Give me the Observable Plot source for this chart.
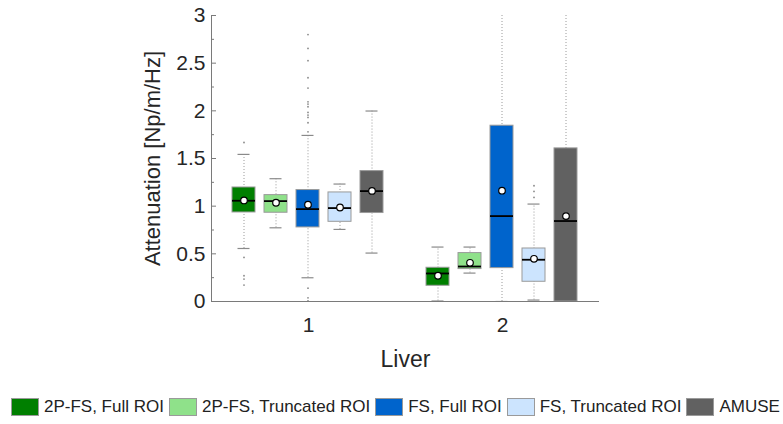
<!DOCTYPE html>
<html>
<head>
<meta charset="utf-8">
<script src="https://cdn.jsdelivr.net/npm/d3@7"></script>
<script src="https://cdn.jsdelivr.net/npm/@observablehq/plot@0.6"></script>
<style>
  html, body { margin: 0; padding: 0; background: #fff; }
  body { width: 783px; height: 424px; overflow: hidden; font-family: "Liberation Sans", Arial, sans-serif; }
  #legend { display: flex; align-items: center; margin-left: 11px; margin-top: 17px; font-size: 17px; color: #222; white-space: nowrap; }
  #legend .item { display: flex; align-items: center; margin-right: 5px; }
  #legend .sw { width: 26px; height: 16px; border: 1px solid #9a9a9a; margin-right: 5px; }
</style>
</head>
<body>
<div id="chart"></div>
<div id="legend"></div>
<script>
// ---- data ----
const livers = [1, 2];
const series = ["2P-FS, Full ROI", "2P-FS, Truncated ROI", "FS, Full ROI", "FS, Truncated ROI", "AMUSE"];
const colors = ["#007f00", "#8fe18a", "#0064cc", "#cce4fe", "#616161"];

// per liver (row) and series (column)
const q1 =        [[0.934, 0.931, 0.777, 0.836, 0.928], [0.165, 0.340, 0.350, 0.207, 0.000]];
const q3 =        [[1.196, 1.116, 1.169, 1.144, 1.368], [0.354, 0.508, 1.844, 0.556, 1.606]];
const medians =   [[1.057, 1.053, 0.969, 0.980, 1.158], [0.294, 0.367, 0.896, 0.438, 0.844]];
const means =     [[1.060, 1.036, 1.015, 0.986, 1.160], [0.270, 0.406, 1.162, 0.448, 0.896]];
const whiskerLo = [[0.556, 0.773, 0.249, 0.756, 0.508], [0.005, 0.298, 0.000, 0.015, 0.000]];
const whiskerHi = [[1.543, 1.288, 1.742, 1.232, 1.998], [0.571, 0.571, 3.600, 1.022, 3.600]];
const outliers = [
  [[1.668, 0.462, 0.270, 0.235, 0.172],
   [],
   [2.800, 2.655, 2.526, 2.347, 2.239, 2.095, 2.071, 2.043, 1.983, 1.956, 1.931, 1.875, 1.780, 0.140, 0.039, 0.007],
   [],
   []],
  [[], [], [], [1.214, 1.155, 1.092], []]
];
const yTicks = [0, 0.5, 1, 1.5, 2, 2.5, 3];
const yMinorTicks = [0.25, 0.75, 1.25, 1.75, 2.25, 2.75];

// ---- tables built from the arrays ----
const stats = [];
const points = [];
livers.forEach((liver, i) => {
  series.forEach((s, j) => {
    stats.push({liver, series: s, q1: q1[i][j], q3: q3[i][j], median: medians[i][j], mean: means[i][j],
                lo: whiskerLo[i][j], hi: whiskerHi[i][j]});
    outliers[i][j].forEach(v => points.push({liver, series: s, value: v}));
  });
});

const axisColor = "#7a7a7a";
const textColor = "#262626";

const chart = Plot.plot({
  width: 783,
  height: 380,
  marginLeft: 210,
  marginRight: 184,
  marginTop: 15,
  marginBottom: 79,
  style: {fontFamily: "'Liberation Sans', Arial, sans-serif", color: textColor, background: "#fff"},
  fx: {domain: livers, padding: 0},
  x: {domain: series, paddingInner: 0.27, paddingOuter: 0.6, axis: null},
  y: {domain: [0, 3]},
  color: {domain: series, range: colors},
  marks: [
    // whiskers (dotted)
    Plot.ruleX(stats, {fx: "liver", x: "series", y1: "lo", y2: "hi", stroke: "#9a9a9a", strokeWidth: 1, strokeDasharray: "1,2", clip: true}),
    // whisker caps
    Plot.tickY(stats, {fx: "liver", x: "series", y: "lo", stroke: "#8a8a8a", strokeWidth: 1.2, insetLeft: 5.5, insetRight: 5.5, clip: true}),
    Plot.tickY(stats, {fx: "liver", x: "series", y: "hi", stroke: "#8a8a8a", strokeWidth: 1.2, insetLeft: 5.5, insetRight: 5.5, clip: true}),
    // outliers
    Plot.dot(points, {fx: "liver", x: "series", y: "value", r: 0.9, fill: "#8a8a8a", stroke: null}),
    // boxes
    Plot.barY(stats, {fx: "liver", x: "series", y1: "q1", y2: "q3", fill: "series", stroke: "#9a9a9a", strokeWidth: 1}),
    // medians
    Plot.tickY(stats, {fx: "liver", x: "series", y: "median", stroke: "#000", strokeWidth: 1.8}),
    // means
    Plot.dot(stats, {fx: "liver", x: "series", y: "mean", r: 3.3, fill: "#fff", stroke: "#000", strokeWidth: 1.2}),
    // axis lines
    Plot.ruleY([0], {stroke: axisColor, strokeWidth: 1}),
    Plot.frame({anchor: "left", stroke: axisColor, strokeWidth: 1, facetAnchor: "left"}),
    // y axis
    Plot.axisY({ticks: yMinorTicks, tickFormat: () => "", tickSize: -3, stroke: axisColor, label: null}),
    Plot.axisY({ticks: yTicks, tickFormat: d => String(d), tickSize: -5, tickPadding: 11, stroke: axisColor,
                fontSize: 21, label: null}),
    Plot.axisY({ticks: [], fontSize: 22, label: "Attenuation [Np/m/Hz]", labelArrow: "none", labelAnchor: "center", labelOffset: 67}),
    // fx axis
    Plot.axisFx({anchor: "bottom", tickSize: 0, tickPadding: 16, fontSize: 21, label: null}),
    Plot.axisFx({anchor: "bottom", ticks: [], fontSize: 23, label: "Liver", labelArrow: "none",
                 labelAnchor: "center", labelOffset: 65})
  ]
});
document.getElementById("chart").appendChild(chart);

// legend
const legend = document.getElementById("legend");
series.forEach((s, j) => {
  const item = document.createElement("div");
  item.className = "item";
  const sw = document.createElement("div");
  sw.className = "sw";
  sw.style.background = colors[j];
  const label = document.createElement("span");
  label.textContent = s;
  item.appendChild(sw);
  item.appendChild(label);
  legend.appendChild(item);
});
</script>
</body>
</html>
